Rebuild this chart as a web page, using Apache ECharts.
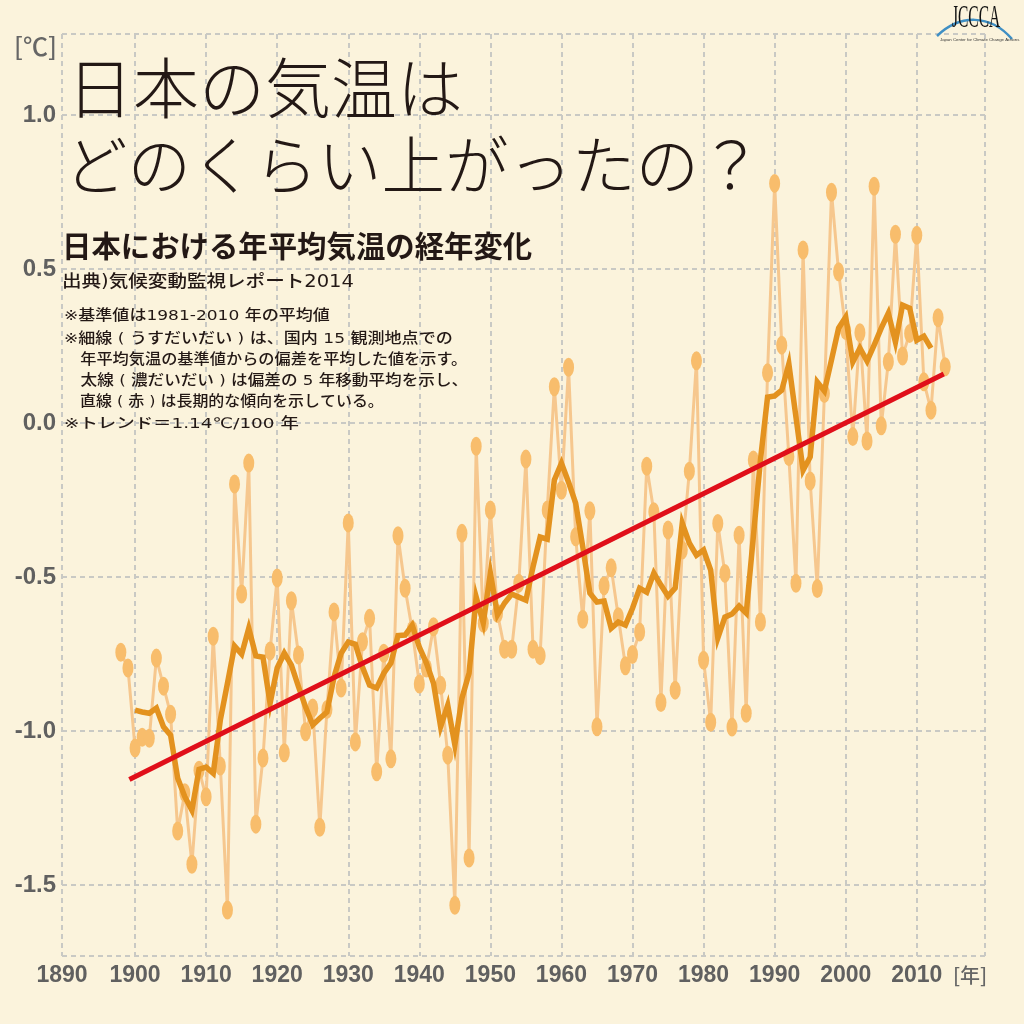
<!DOCTYPE html>
<html>
<head>
<meta charset="utf-8">
<title>日本の気温はどのくらい上がったの？</title>
<script src="https://cdn.jsdelivr.net/npm/echarts@6/dist/echarts.min.js"></script>
<style>
html, body { margin: 0; padding: 0; background: #fbf3dc; }
#chart { width: 1024px; height: 1024px; }
</style>
</head>
<body>
<div id="chart"></div>
<script>
// 1898-2014 annual anomaly
const anomalyStart = 1898;
const anomaly = [
    -0.744, -0.795, -1.055, -1.020, -1.023, -0.763, -0.854, -0.945, -1.324, -1.200,
    -1.432, -1.127, -1.213, -0.692, -1.113, -1.581, -0.198, -0.555, -0.130, -1.302,
    -1.087, -0.740, -0.503, -1.070, -0.577, -0.753, -1.002, -0.925, -1.312, -0.930,
    -0.613, -0.860, -0.324, -1.035, -0.710, -0.634, -1.132, -0.747, -1.090, -0.366,
    -0.536, -0.672, -0.847, -0.795, -0.661, -0.851, -1.078, -1.565, -0.358, -1.412,
    -0.075, -0.650, -0.282, -0.618, -0.734, -0.734, -0.520, -0.117, -0.734, -0.755,
    -0.282, 0.118, -0.218, 0.181, -0.369, -0.637, -0.285, -0.986, -0.528, -0.470,
    -0.629, -0.788, -0.751, -0.678, -0.140, -0.288, -0.907, -0.347, -0.867, -0.412,
    -0.156, 0.202, -0.770, -0.971, -0.326, -0.488, -0.987, -0.364, -0.942, -0.120,
    -0.646, 0.163, 0.778, 0.253, -0.109, -0.520, 0.562, -0.188, -0.537, 0.096,
    0.749, 0.491, 0.300, -0.044, 0.293, -0.058, 0.769, -0.009, 0.199, 0.613,
    0.218, 0.291, 0.610, 0.134, 0.042, 0.342, 0.183
];
// 5 year moving average, 1900-2012
const movingStart = 1900;
const moving = [
    -0.932, -0.938, -0.942, -0.925, -0.986, -1.013, -1.153, -1.213, -1.257, -1.124,
    -1.117, -1.137, -0.964, -0.845, -0.724, -0.750, -0.666, -0.756, -0.760, -0.910,
    -0.795, -0.747, -0.786, -0.856, -0.922, -0.980, -0.958, -0.938, -0.824, -0.747,
    -0.711, -0.718, -0.792, -0.851, -0.860, -0.812, -0.779, -0.690, -0.688, -0.656,
    -0.727, -0.779, -0.845, -0.986, -0.916, -1.045, -0.893, -0.812, -0.565, -0.649,
    -0.487, -0.623, -0.584, -0.555, -0.565, -0.575, -0.467, -0.370, -0.377, -0.185,
    -0.130, -0.192, -0.260, -0.402, -0.552, -0.581, -0.578, -0.666, -0.646, -0.656,
    -0.601, -0.536, -0.549, -0.487, -0.526, -0.562, -0.536, -0.325, -0.390, -0.429,
    -0.412, -0.477, -0.698, -0.630, -0.620, -0.594, -0.617, -0.370, -0.120, 0.084,
    0.088, 0.107, 0.192, 0.019, -0.153, -0.110, 0.133, 0.104, 0.205, 0.308,
    0.344, 0.198, 0.243, 0.201, 0.253, 0.308, 0.357, 0.263, 0.383, 0.373,
    0.269, 0.282, 0.243
];
const trendYears = [1899.2, 2013.8];
const trendValues = [-1.157, 0.159];

const xLabels = [1900, 1910, 1920, 1930, 1940, 1950, 1960, 1970, 1980, 1990, 2000, 2010];
const yLabels = [-1.5, -1.0, -0.5, 0.0, 0.5, 1.0];
// the frame does not sit on round values
const xMin = 1889.72, xMax = 2019.6;
const yMin = -1.73, yMax = 1.263;

const titleLines = ['日本の気温は', 'どのくらい上がったの？'];
const subTitle = '日本における年平均気温の経年変化';
const sourceText = '出典)気候変動監視レポート2014';
const notes = [
    '※基準値は1981-2010 年の平均値',
    '※細線 ( うすだいだい ) は、国内 15 観測地点での',
    '　年平均気温の基準値からの偏差を平均した値を示す。',
    '　太線 ( 濃だいだい ) は偏差の 5 年移動平均を示し、',
    '　直線 ( 赤 ) は長期的な傾向を示している。',
    '※トレンド＝1.14℃/100 年'
];

const jpFont = '"Noto Sans CJK JP", sans-serif';
const wideFont = '"DejaVu Sans", "Noto Sans CJK JP", sans-serif';
const numFont = '"Liberation Sans", Arial, sans-serif';
const gridStyle = { color: '#c9c9c4', width: 2, type: [5, 4] };

function pairs(start, values) {
    return values.map((v, i) => [start + i, v]);
}
function label(text, x, y, size, extra = {}, scaleX = 1) {
    return {
        type: 'text',
        x: x,
        y: y,
        scaleX: scaleX,
        z: 10,
        silent: true,
        style: Object.assign({
            text: text,
            fontSize: size,
            fontFamily: jpFont,
            fill: '#231815',
            verticalAlign: 'middle'
        }, extra)
    };
}

// the notes are letter-spaced in the original, each line by its own amount
const noteY = [316.5, 339.5, 360.5, 381.5, 402.5, 424.5];
const noteScale = [1.175, 1.176, 1.117, 1.146, 1.1, 1.27];
const graphic = [
    label(titleLines[0], 67, 88, 66, { fontWeight: 300 }),
    label(titleLines[1], 64, 165, 63.5, { fontWeight: 300 }),
    label(subTitle, 62, 246, 29.4, { fontWeight: 'bold' }),
    label(sourceText, 62, 283, 17, { fontWeight: 500, fontFamily: wideFont }, 1.15),
    label('[℃]', 14, 46, 25, { fill: '#666666', fontWeight: 500 }),
    label('[年]', 953, 975, 20, { fill: '#666666', fontWeight: 500 }),
    // logo
    {
        type: 'bezierCurve',
        z: 10,
        silent: true,
        shape: { x1: 937, y1: 36, cpx1: 960, cpy1: 14, cpx2: 990, cpy2: 14, x2: 1012, y2: 39 },
        style: { stroke: '#3f8fc4', lineWidth: 2.5, fill: null }
    },
    label('JCCCA', 952, 19, 31, { fontFamily: '"Liberation Serif", serif', fill: '#111111' }, 0.5),
    label('Japan Center for Climate Change Actions', 940, 40, 4.3, { fontFamily: numFont, fill: '#333333' })
];
notes.forEach((n, i) => graphic.push(label(n, 64, noteY[i], 14.5, { fontWeight: 500, fontFamily: wideFont }, noteScale[i])));

const chart = echarts.init(document.getElementById('chart'));
chart.setOption({
    animation: false,
    backgroundColor: '#fbf3dc',
    graphic: graphic,
    grid: { left: 62, right: 39, top: 34, bottom: 68 },
    xAxis: {
        type: 'value',
        min: xMin,
        max: xMax,
        axisLine: { show: false },
        axisTick: { show: false, customValues: [xMin, ...xLabels, xMax] },
        axisLabel: {
            customValues: [xMin, ...xLabels],
            formatter: v => String(Math.round(v)),
            fontFamily: numFont,
            fontWeight: 'bold',
            fontSize: 23,
            color: '#606060',
            margin: 8
        },
        splitLine: { show: true, lineStyle: gridStyle }
    },
    yAxis: {
        type: 'value',
        min: yMin,
        max: yMax,
        axisLine: { show: false },
        axisTick: { show: false, customValues: [yMin, ...yLabels, yMax] },
        axisLabel: {
            customValues: yLabels,
            formatter: v => v.toFixed(1),
            fontFamily: numFont,
            fontWeight: 'bold',
            fontSize: 24,
            color: '#606060',
            margin: 6,
            padding: [8, 0, 0, 0]
        },
        splitLine: { show: true, lineStyle: gridStyle }
    },
    series: [
        {
            type: 'line',
            data: pairs(anomalyStart, anomaly),
            symbol: 'circle',
            symbolSize: [11, 19],
            showAllSymbol: true,
            lineStyle: { color: '#f6c78e', width: 3 },
            itemStyle: { color: '#f8bd6c' },
            z: 2
        },
        {
            type: 'line',
            data: pairs(movingStart, moving),
            symbol: 'none',
            lineStyle: { color: '#e3921f', width: 5.5, join: 'miter' },
            z: 3
        },
        {
            type: 'line',
            data: trendYears.map((y, i) => [y, trendValues[i]]),
            symbol: 'none',
            lineStyle: { color: '#e00f1a', width: 5 },
            z: 4
        }
    ]
});
</script>
</body>
</html>
